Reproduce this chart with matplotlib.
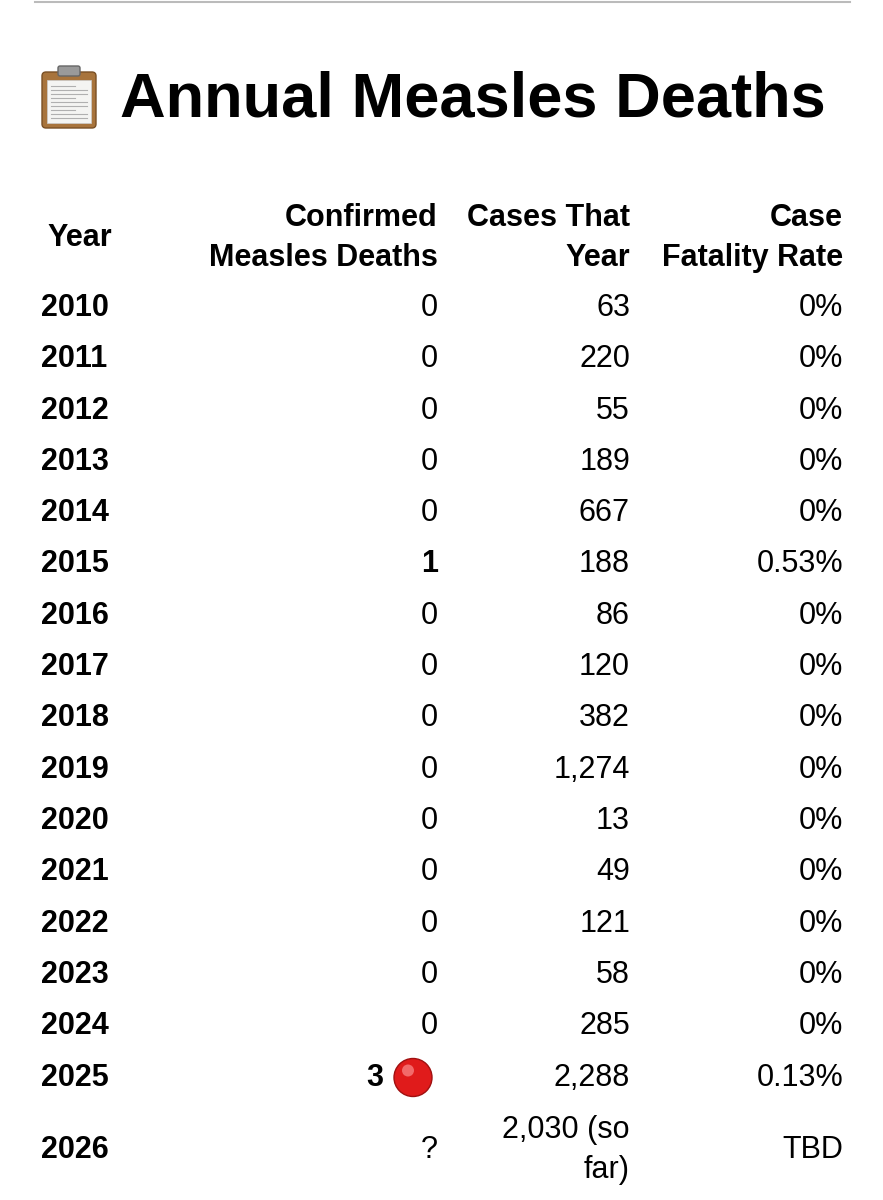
import matplotlib
matplotlib.use("Agg")
import matplotlib.pyplot as plt
from matplotlib.patches import FancyBboxPatch, Circle, Rectangle

years = ["2010","2011","2012","2013","2014","2015","2016","2017","2018","2019",
         "2020","2021","2022","2023","2024","2025","2026"]
deaths = ["0","0","0","0","0","1","0","0","0","0","0","0","0","0","0","3","?"]
cases = ["63","220","55","189","667","188","86","120","382","1,274","13","49","121","58","285","2,288","2,030 (so\nfar)"]
cfr = ["0%","0%","0%","0%","0%","0.53%","0%","0%","0%","0%","0%","0%","0%","0%","0%","0.13%","TBD"]
headers = ["Year", "Confirmed\nMeasles Deaths", "Cases That\nYear", "Case\nFatality Rate"]

plt.rcParams['font.family'] = ['Liberation Sans', 'DejaVu Sans']
W, H = 883, 1200
fig = plt.figure(figsize=(W/100, H/100), dpi=100)
ax = fig.add_axes([0, 0, 1, 1])
ax.set_xlim(0, W); ax.set_ylim(H, 0); ax.axis('off')

ax.plot([35, 850], [2, 2], color='#bbbbbb', lw=1.5)

# clipboard icon
ax.add_patch(FancyBboxPatch((42, 72), 54, 56, boxstyle="round,pad=0,rounding_size=4",
                            fc='#a8743c', ec='#7a5025', lw=1))
ax.add_patch(Rectangle((47, 80), 44, 43, fc='#f4f4f2', ec='#cccccc', lw=0.5))
for i in range(9):
    ax.plot([51, 87 if i % 3 else 75], [86 + i*4, 86 + i*4], color='#b0b0b0', lw=0.8)
ax.add_patch(FancyBboxPatch((58, 66), 22, 10, boxstyle="round,pad=0,rounding_size=2",
                            fc='#9a9a9a', ec='#666666', lw=1))

ax.text(120, 100, "Annual Measles Deaths", fontsize=45.5, fontweight='bold', va='center', ha='left')

cols_x = [41, 438, 630, 843]
fs = 22
hfs = 22
ax.text(47, 238, headers[0], fontsize=hfs, fontweight='bold', ha='left', va='center')
for j in range(1, 4):
    ax.text(cols_x[j], 238, headers[j], fontsize=hfs, fontweight='bold', ha='right', va='center',
            linespacing=1.45)

for i, y0 in enumerate(years):
    y = 308 + i*51.3 if i < 16 else 1150
    ax.text(cols_x[0], y, y0, fontsize=fs, fontweight='bold', ha='left', va='center')
    bold = deaths[i] in ("1", "3")
    if deaths[i] == "3":
        ax.text(383, y, deaths[i], fontsize=fs, fontweight='bold', ha='right', va='center')
        ax.add_patch(Circle((413, y), 19, fc='#e01b1b', ec='#a01010', lw=1))
        ax.add_patch(Circle((408, y-7), 6, fc='#f26a6a', ec='none'))
    else:
        ax.text(cols_x[1], y, deaths[i], fontsize=fs, fontweight='bold' if bold else 'normal',
                ha='right', va='center')
    ax.text(cols_x[2], y, cases[i], fontsize=fs, ha='right', va='center', linespacing=1.45)
    ax.text(cols_x[3], y, cfr[i], fontsize=fs, ha='right', va='center')

fig.savefig("out.png", dpi=100)
